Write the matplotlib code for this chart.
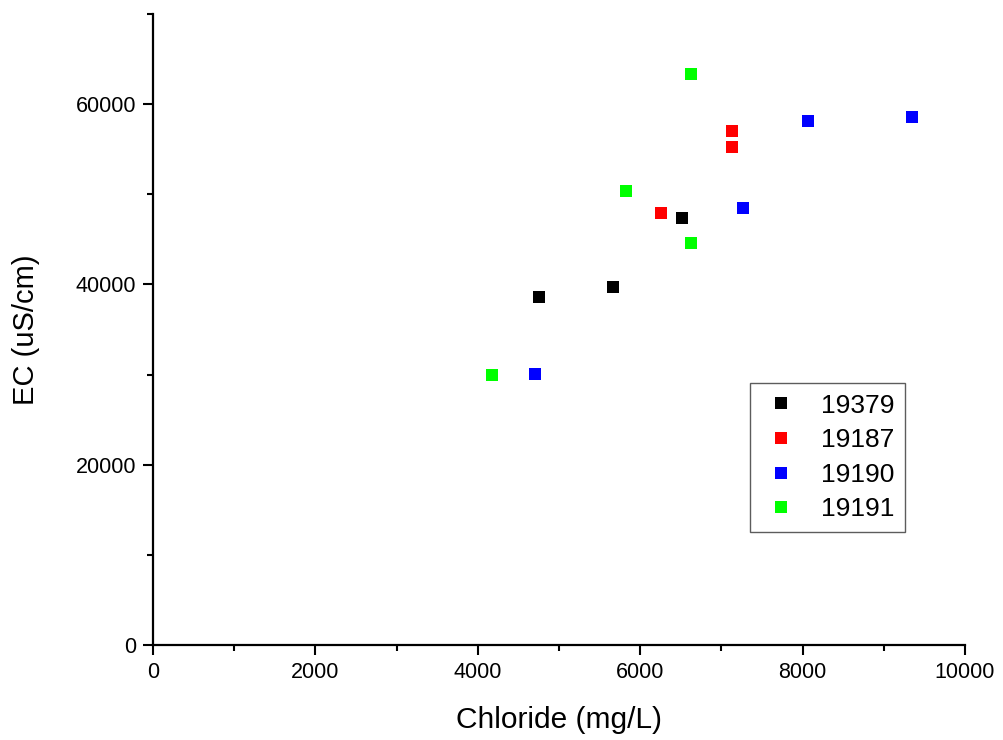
import matplotlib.pyplot as plt
from matplotlib.ticker import MultipleLocator

plt.rcParams['font.family'] = ['Liberation Sans', 'DejaVu Sans']

# Chloride vs EC for each well
wells = ['19379', '19187', '19190', '19191']
colors = ['#000000', '#ff0000', '#0000ff', '#00ff00']

chloride = {
    '19379': [4750, 5670, 6520],
    '19187': [6250, 7125, 7135],
    '19190': [4700, 7270, 8070, 9350],
    '19191': [4170, 5820, 6620, 6630],
}
ec = {
    '19379': [38600, 39700, 47350],
    '19187': [47950, 55250, 57000],
    '19190': [30050, 48450, 58100, 58550],
    '19191': [29950, 50350, 63350, 44600],
}

fig = plt.figure(figsize=(10.04, 7.4), dpi=100)
ax = fig.add_axes([0.1524, 0.1284, 0.8088, 0.8526])

for w, c in zip(wells, colors):
    ax.plot(chloride[w], ec[w], linestyle='none', marker='s', markersize=9,
            color=c, markeredgewidth=0, label=w)

ax.set_xlim(0, 10000)
ax.set_ylim(0, 70000)
ax.xaxis.set_major_locator(MultipleLocator(2000))
ax.xaxis.set_minor_locator(MultipleLocator(1000))
ax.yaxis.set_major_locator(MultipleLocator(20000))
ax.yaxis.set_minor_locator(MultipleLocator(10000))

for side in ['top', 'right']:
    ax.spines[side].set_visible(False)
for side in ['left', 'bottom']:
    ax.spines[side].set_linewidth(1.6)

ax.tick_params(which='major', direction='out', length=7, width=1.5, labelsize=15.5, pad=5)
ax.tick_params(which='minor', direction='out', length=4, width=1.5)

ax.set_xlabel('Chloride (mg/L)', fontsize=21.5, labelpad=17)
ax.set_ylabel('EC (uS/cm)', fontsize=21, labelpad=26)

leg = ax.legend(loc='upper left', bbox_to_anchor=(0.735, 0.415), fontsize=19,
                frameon=True, fancybox=False, edgecolor='#333333',
                handletextpad=0.75, borderpad=0.4, labelspacing=0.4,
                handlelength=1.55, borderaxespad=0)
leg.get_frame().set_linewidth(1.0)

fig.savefig('out.png', dpi=100)
